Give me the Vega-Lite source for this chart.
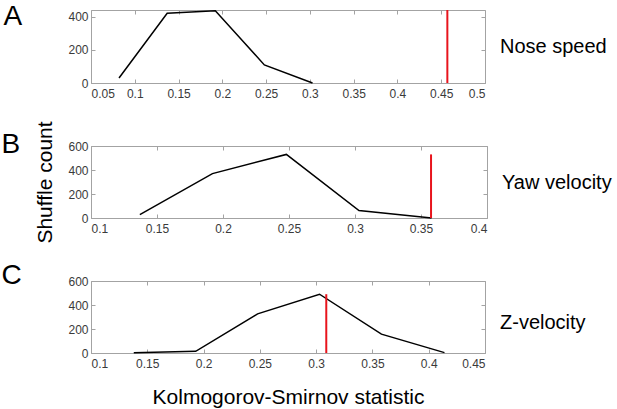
{
  "$schema": "https://vega.github.io/schema/vega-lite/v6.json",
  "padding": {"left": 1, "top": 2, "right": 2, "bottom": 2},
  "data": {
    "values": [
      {"panel": "A", "kind": "shuffle", "ks": 0.082, "count": 30},
      {"panel": "A", "kind": "shuffle", "ks": 0.137, "count": 420},
      {"panel": "A", "kind": "shuffle", "ks": 0.192, "count": 436},
      {"panel": "A", "kind": "shuffle", "ks": 0.248, "count": 109},
      {"panel": "A", "kind": "shuffle", "ks": 0.303, "count": 0},
      {"panel": "A", "kind": "observed", "ks": 0.457, "count": 0, "top": 440},
      {"panel": "B", "kind": "shuffle", "ks": 0.137, "count": 28},
      {"panel": "B", "kind": "shuffle", "ks": 0.192, "count": 370},
      {"panel": "B", "kind": "shuffle", "ks": 0.248, "count": 530},
      {"panel": "B", "kind": "shuffle", "ks": 0.303, "count": 62},
      {"panel": "B", "kind": "shuffle", "ks": 0.358, "count": 0},
      {"panel": "B", "kind": "observed", "ks": 0.3576, "count": 0, "top": 530},
      {"panel": "C", "kind": "shuffle", "ks": 0.138, "count": 3},
      {"panel": "C", "kind": "shuffle", "ks": 0.193, "count": 14},
      {"panel": "C", "kind": "shuffle", "ks": 0.248, "count": 326},
      {"panel": "C", "kind": "shuffle", "ks": 0.303, "count": 490},
      {"panel": "C", "kind": "shuffle", "ks": 0.358, "count": 157},
      {"panel": "C", "kind": "shuffle", "ks": 0.414, "count": 3},
      {"panel": "C", "kind": "observed", "ks": 0.309, "count": 0, "top": 490}
    ]
  },
  "bounds": "flush",
  "spacing": 63,
  "vconcat": [
    {
      "width": 394,
      "height": 73,
      "title": {"text": "A", "orient": "left", "anchor": "end", "frame": "group", "angle": 0, "align": "right", "baseline": "alphabetic", "offset": 27, "dy": 15},
      "transform": [{"filter": "datum.panel == 'A'"}],
      "resolve": {"axis": {"x": "independent", "y": "independent"}},
      "layer": [
        {
          "transform": [{"filter": "datum.kind == 'shuffle'"}],
          "mark": {"type": "line", "color": "black", "strokeWidth": 1.5},
          "encoding": {
            "x": {"field": "ks", "type": "quantitative", "scale": {"domain": [0.05, 0.5], "nice": false, "zero": false},
                  "axis": {"orient": "bottom", "values": [0.05, 0.1, 0.15, 0.2, 0.25, 0.3, 0.35, 0.4, 0.45, 0.5], "format": ".2~f", "title": null, "labelPadding": 9}},
            "y": {"field": "count", "type": "quantitative", "scale": {"domain": [0, 440], "nice": false},
                  "axis": {"orient": "left", "values": [0, 200, 400], "title": null}}
          }
        },
        {
          "transform": [{"filter": "datum.kind == 'observed'"}],
          "mark": {"type": "rule", "color": "#e8141c", "strokeWidth": 2},
          "encoding": {
            "x": {"field": "ks", "type": "quantitative", "scale": {"domain": [0.05, 0.5], "nice": false, "zero": false},
                  "axis": {"orient": "top", "values": [0.05, 0.1, 0.15, 0.2, 0.25, 0.3, 0.35, 0.4, 0.45, 0.5], "labels": false, "title": null}},
            "y": {"field": "count", "type": "quantitative", "scale": {"domain": [0, 440], "nice": false},
                  "axis": {"orient": "right", "values": [0, 200, 400], "labels": false, "title": "Nose speed"}},
            "y2": {"field": "top"}
          }
        }
      ]
    },
    {
      "width": 396,
      "height": 72,
      "title": {"text": "B", "orient": "left", "anchor": "end", "frame": "group", "angle": 0, "align": "right", "baseline": "alphabetic", "offset": -4, "dy": 7},
      "transform": [{"filter": "datum.panel == 'B'"}],
      "resolve": {"axis": {"x": "independent", "y": "independent"}},
      "layer": [
        {
          "transform": [{"filter": "datum.kind == 'shuffle'"}],
          "mark": {"type": "line", "color": "black", "strokeWidth": 1.5},
          "encoding": {
            "x": {"field": "ks", "type": "quantitative", "scale": {"domain": [0.1, 0.4], "nice": false, "zero": false},
                  "axis": {"orient": "bottom", "values": [0.1, 0.15, 0.2, 0.25, 0.3, 0.35, 0.4], "format": ".2~f", "title": null, "labelPadding": 9}},
            "y": {"field": "count", "type": "quantitative", "scale": {"domain": [0, 600], "nice": false},
                  "axis": {"orient": "left", "values": [0, 200, 400, 600], "title": "Shuffle count", "titleFontSize": 21, "titlePadding": 12}}
          }
        },
        {
          "transform": [{"filter": "datum.kind == 'observed'"}],
          "mark": {"type": "rule", "color": "#e8141c", "strokeWidth": 2},
          "encoding": {
            "x": {"field": "ks", "type": "quantitative", "scale": {"domain": [0.1, 0.4], "nice": false, "zero": false},
                  "axis": {"orient": "top", "values": [0.1, 0.15, 0.2, 0.25, 0.3, 0.35, 0.4], "labels": false, "title": null}},
            "y": {"field": "count", "type": "quantitative", "scale": {"domain": [0, 600], "nice": false},
                  "axis": {"orient": "right", "values": [0, 200, 400, 600], "labels": false, "title": "Yaw velocity"}},
            "y2": {"field": "top"}
          }
        }
      ]
    },
    {
      "width": 394,
      "height": 72,
      "title": {"text": "C", "orient": "left", "anchor": "end", "frame": "group", "angle": 0, "align": "right", "baseline": "alphabetic", "offset": 26, "dy": 3},
      "transform": [{"filter": "datum.panel == 'C'"}],
      "resolve": {"axis": {"x": "independent", "y": "independent"}},
      "layer": [
        {
          "transform": [{"filter": "datum.kind == 'shuffle'"}],
          "mark": {"type": "line", "color": "black", "strokeWidth": 1.5},
          "encoding": {
            "x": {"field": "ks", "type": "quantitative", "scale": {"domain": [0.1, 0.45], "nice": false, "zero": false},
                  "axis": {"orient": "bottom", "values": [0.1, 0.15, 0.2, 0.25, 0.3, 0.35, 0.4, 0.45], "format": ".2~f", "title": "Kolmogorov-Smirnov statistic", "titleFontSize": 21, "titlePadding": 17, "labelPadding": 9}},
            "y": {"field": "count", "type": "quantitative", "scale": {"domain": [0, 600], "nice": false},
                  "axis": {"orient": "left", "values": [0, 200, 400, 600], "title": null}}
          }
        },
        {
          "transform": [{"filter": "datum.kind == 'observed'"}],
          "mark": {"type": "rule", "color": "#e8141c", "strokeWidth": 2},
          "encoding": {
            "x": {"field": "ks", "type": "quantitative", "scale": {"domain": [0.1, 0.45], "nice": false, "zero": false},
                  "axis": {"orient": "top", "values": [0.1, 0.15, 0.2, 0.25, 0.3, 0.35, 0.4, 0.45], "labels": false, "title": null}},
            "y": {"field": "count", "type": "quantitative", "scale": {"domain": [0, 600], "nice": false},
                  "axis": {"orient": "right", "values": [0, 200, 400, 600], "labels": false, "title": "Z-velocity", "titleY": 41}},
            "y2": {"field": "top"}
          }
        }
      ]
    }
  ],
  "config": {
    "font": "Liberation Sans",
    "view": {"stroke": "#a3a3a3", "strokeWidth": 1},
    "axis": {
      "domain": false,
      "grid": false,
      "ticks": true,
      "tickColor": "#a3a3a3",
      "tickSize": -4,
      "labelPadding": 7,
      "labelFont": "Liberation Sans",
      "labelFontSize": 12,
      "labelColor": "#3a3a3a",
      "titleFont": "Liberation Sans",
      "titleFontWeight": "normal",
      "titleFontSize": 21,
      "titleColor": "#000000"
    },
    "axisRight": {"titleAngle": 0, "titleAlign": "left", "titleBaseline": "middle", "titlePadding": 14, "titleFontSize": 20},
    "title": {"font": "Liberation Sans", "fontSize": 28, "fontWeight": "normal", "color": "#000000"}
  }
}
